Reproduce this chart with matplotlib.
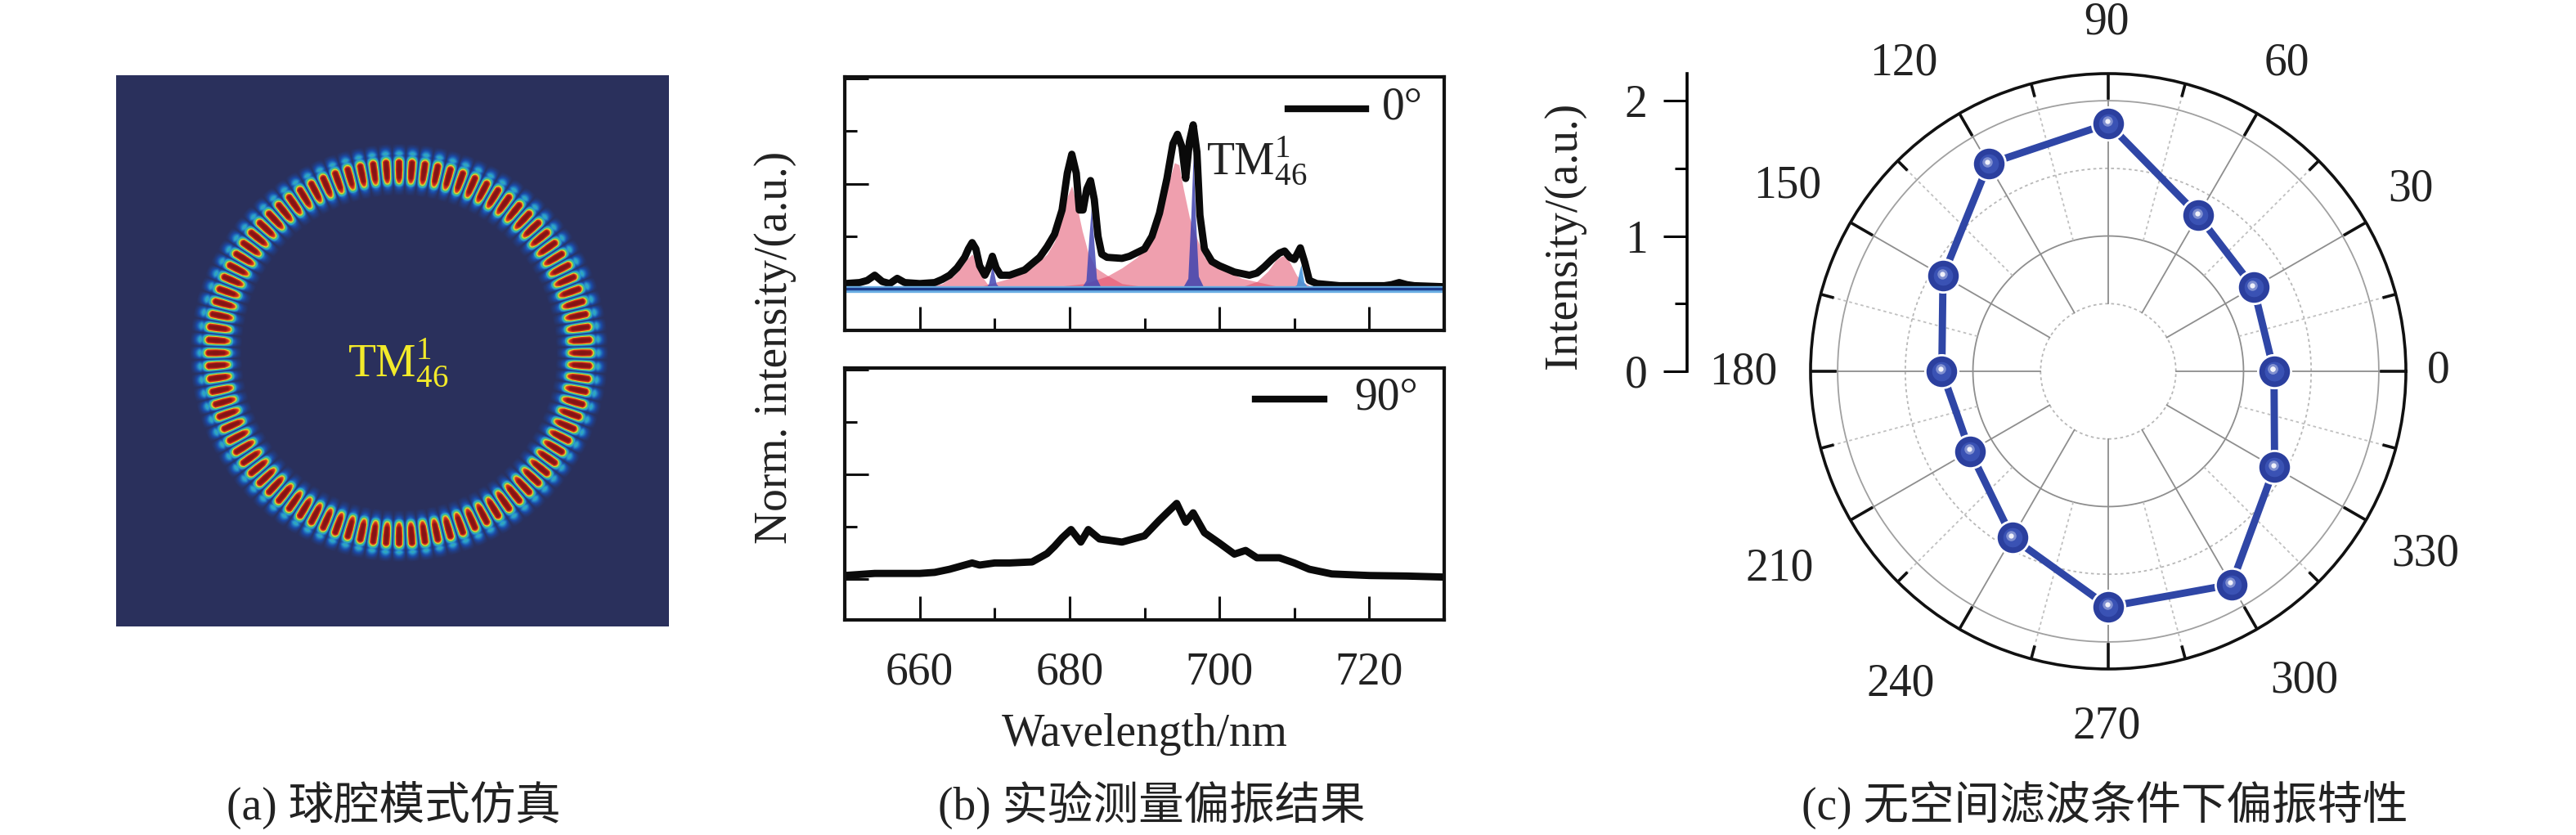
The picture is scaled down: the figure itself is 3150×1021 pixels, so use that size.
import numpy as np
import matplotlib
matplotlib.use('Agg')
import matplotlib.pyplot as plt
from matplotlib.colors import LinearSegmentedColormap
from matplotlib.ticker import MultipleLocator
from matplotlib.transforms import ScaledTranslation

plt.rcParams['font.family'] = ['Liberation Serif', 'Noto Sans CJK SC']
plt.rcParams['mathtext.fontset'] = 'custom'
plt.rcParams['mathtext.rm'] = 'Liberation Serif'
plt.rcParams['mathtext.default'] = 'rm'

W, H = 3150, 1021
FS = 40

# (a) mode picture: radial profile, 46 azimuthal pairs
mode_order = 46
ring_r = [192, 198, 203, 208, 214, 224, 234, 238, 241, 244, 248, 252, 256]
ring_amp = [0.0, 0.08, 0.22, 0.66, 0.93, 1.0, 0.93, 0.55, 0.28, 0.36, 0.2, 0.07, 0.0]
mode_stops = [0, 0.14, 0.3, 0.45, 0.58, 0.72, 0.9, 1]
mode_colors = ['#2a305c', '#1c4aa6', '#2a9ed0', '#4cc27c', '#e4d62e', '#d8301e', '#8a1616', '#841414']

# (b) 0 degree spectrum
wl_0 = [650, 652, 653, 654, 655, 656, 657, 658, 660, 662, 663, 664, 665, 666, 666.5, 667, 667.5, 668,
        668.7, 669.2, 669.7, 670.2, 670.8, 672, 674, 676, 677, 678, 679, 679.7, 680.3, 680.9, 681.3,
        681.8, 682.3, 682.8, 683.3, 683.8, 684.3, 685, 687, 688, 690, 691, 692, 693, 693.8, 694.4, 695,
        695.5, 696, 696.5, 697, 697.4, 698, 699, 700, 702, 704, 705, 706, 707, 708, 708.7, 709.4, 710,
        710.8, 711.4, 712, 713, 716, 722, 723, 724, 725, 726, 730]
int_0 = [0.05, 0.06, 0.08, 0.13, 0.07, 0.05, 0.1, 0.06, 0.05, 0.06, 0.09, 0.13, 0.2, 0.3, 0.38, 0.44, 0.38, 0.22,
         0.13, 0.2, 0.31, 0.2, 0.13, 0.13, 0.18, 0.3, 0.4, 0.52, 0.75, 1.1, 1.28, 1.1, 0.75,
         0.75, 0.95, 1.03, 0.85, 0.5, 0.33, 0.3, 0.29, 0.31, 0.38, 0.5, 0.72, 1.05, 1.38, 1.47, 1.35,
         1.05, 1.4, 1.56, 1.3, 0.7, 0.38, 0.26, 0.22, 0.16, 0.13, 0.15, 0.21, 0.28, 0.34, 0.36, 0.3, 0.28,
         0.39, 0.25, 0.08, 0.05, 0.03, 0.03, 0.04, 0.06, 0.04, 0.03, 0.02]

# (b) 90 degree spectrum
wl_90 = [650, 652, 654, 656, 660, 662, 664, 666, 667, 668, 670, 672, 675, 677, 678, 679, 680.2,
         681.5, 682.5, 684, 687, 690, 692, 693, 694.3, 695.5, 696.5, 698, 700, 702, 703.5,
         705, 708, 710, 712, 715, 720, 725, 730]
int_90 = [0.03, 0.04, 0.05, 0.05, 0.05, 0.06, 0.09, 0.13, 0.15, 0.13, 0.15, 0.15, 0.16, 0.24, 0.31, 0.39, 0.47,
          0.35, 0.47, 0.38, 0.35, 0.41, 0.56, 0.63, 0.72, 0.54, 0.63, 0.44, 0.34, 0.235, 0.27,
          0.2, 0.2, 0.15, 0.09, 0.045, 0.03, 0.025, 0.015]

# (b) fitted peaks under the 0 degree spectrum
pink_wl = [[661, 663, 664.5, 665.5, 666.3, 667, 667.6, 668.3, 669, 670],
           [668, 672, 675, 677, 678, 679, 679.7, 680.3, 681, 681.7, 682.5, 683.5, 685, 687, 690],
           [678, 682, 685, 687, 689, 690.5, 691.5, 692.5, 693.3, 694, 694.6, 695.2, 696, 697, 698, 700, 703, 708],
           [703, 705, 706.5, 707.5, 708.3, 708.8, 709.5, 710.3, 711, 712, 714]]
pink_int = [[0.02, 0.05, 0.12, 0.2, 0.28, 0.33, 0.26, 0.12, 0.05, 0.02],
            [0.02, 0.1, 0.2, 0.33, 0.45, 0.68, 0.88, 0.98, 0.78, 0.55, 0.34, 0.2, 0.13, 0.05, 0.02],
            [0.02, 0.05, 0.12, 0.2, 0.3, 0.42, 0.58, 0.8, 1.03, 1.2, 1.18, 0.95, 0.68, 0.48, 0.3, 0.2, 0.1, 0.02],
            [0.02, 0.07, 0.17, 0.27, 0.31, 0.32, 0.24, 0.13, 0.07, 0.03, 0.01]]
blue_wl = [[668.7, 669.2, 669.7, 670.2, 670.8],
           [681.5, 682.2, 682.6, 682.9, 683.2, 683.6, 684.3],
           [695, 695.8, 696.2, 696.5, 696.8, 697.2, 698],
           [709.5, 710.3, 710.7, 710.9, 711.3, 712]]
blue_int = [[0, 0.05, 0.23, 0.05, 0],
            [0, 0.08, 0.5, 0.77, 0.5, 0.1, 0],
            [0, 0.1, 0.7, 1.26, 0.7, 0.12, 0],
            [0, 0.04, 0.18, 0.23, 0.06, 0]]
blue_cols = ['#4348b4', '#4348b4', '#3d42ae', '#3a8ed8']

# (c) polar data
angles_deg = [0, 30, 60, 90, 120, 150, 180, 210, 240, 270, 300, 330]
intensity = [1.225, 1.24, 1.33, 1.83, 1.77, 1.41, 1.23, 1.18, 1.42, 1.74, 1.82, 1.42]


def px_axes(left, top, right, bottom, **kw):
    return fig.add_axes([left / W, 1 - bottom / H, (right - left) / W, (bottom - top) / H], **kw)


def px_text(x, y, s, **kw):
    kw.setdefault('ha', 'center')
    kw.setdefault('va', 'center')
    kw.setdefault('fontsize', FS)
    return fig.text(x / W, 1 - y / H, s, **kw)


fig = plt.figure(figsize=(W / 100, H / 100), dpi=100, facecolor='white')

# panel a
ax_a = px_axes(142, 92, 818, 766)
cx, cy = 345.5, 339
yy, xx = np.mgrid[0:674, 0:676]
rr = np.hypot(xx - cx, yy - cy)
th = np.arctan2(cy - yy, xx - cx)
field = np.interp(rr, ring_r, ring_amp) * (0.08 + 0.92 * (np.cos(mode_order * th) ** 2) ** 0.55)
cmap_a = LinearSegmentedColormap.from_list('mode', list(zip(mode_stops, mode_colors)))
ax_a.imshow(field, cmap=cmap_a, vmin=0, vmax=1, origin='upper', aspect='auto', interpolation='bilinear')
ax_a.axis('off')
px_text(425, 460, r'TM$^{1}_{46}$', color='#f2ea2a', ha='left', va='baseline', fontsize=FS)

# panel b
ax_top = px_axes(1033, 94, 1766, 404)
ax_bot = px_axes(1033, 450, 1766, 758)
ax_top.plot(wl_0, int_0, color='#0a0a0a', lw=6.4, solid_joinstyle='round')
for xs, ys in zip(pink_wl, pink_int):
    ax_top.fill_between(xs, 0, ys, color='#e1415f', alpha=0.5, lw=0)
for xs, ys, c in zip(blue_wl, blue_int, blue_cols):
    ax_top.fill_between(xs, 0, ys, color=c, alpha=0.85, lw=0)
ax_top.plot([660, 715], [0.02, 0.02], color='#d8304e', lw=2)
ax_top.plot([650, 730], [-0.005, -0.005], color='#6aaee4', lw=6)
ax_top.plot([650, 730], [0.005, 0.005], color='#1c3c8c', lw=2.4)
ax_top.set_ylim(-0.395, 2.016)
ax_bot.plot(wl_90, int_90, color='#0a0a0a', lw=6.4, solid_joinstyle='round')
ax_bot.set_ylim(-0.395, 2.016)

for ax in (ax_top, ax_bot):
    ax.set_xlim(650, 730)
    ax.xaxis.set_major_locator(MultipleLocator(20))
    ax.xaxis.set_minor_locator(MultipleLocator(10))
    ax.yaxis.set_major_locator(MultipleLocator(1))
    ax.yaxis.set_minor_locator(MultipleLocator(0.5))
    ax.tick_params(which='major', direction='in', length=21, width=2.2, color='#111111')
    ax.tick_params(which='minor', direction='in', length=11, width=2.2, color='#111111')
    ax.tick_params(labelleft=False, labelbottom=False)
    for sp in ax.spines.values():
        sp.set_linewidth(3)
        sp.set_color('#111111')
ax_bot.tick_params(labelbottom=True, labelsize=FS, pad=28, labelcolor='#222222')

ax_top.plot([0.74, 0.869], [0.875, 0.875], transform=ax_top.transAxes, color='#0a0a0a', lw=6)
px_text(1690, 132, '0°', ha='left', color='#222222')
ax_bot.plot([0.685, 0.80], [0.875, 0.875], transform=ax_bot.transAxes, color='#0a0a0a', lw=6)
px_text(1656, 486, '90°', ha='left', color='#222222')
px_text(1475, 213, r'TM$^{1}_{46}$', color='#222222', ha='left', va='baseline')
px_text(948, 425, 'Norm. intensity/(a.u.)', rotation=90, color='#222222')
px_text(1400, 898, 'Wavelength/nm', color='#222222')

# panel c
R_MAX = 2.2
cxp, cyp, rp = 2578, 454, 364
ax_c = px_axes(cxp - rp, cyp - rp, cxp + rp, cyp + rp, projection='polar')
ax_c.set_rlim(0, R_MAX)
ax_c.set_xticks([])
ax_c.set_yticks([])
ax_c.grid(False)
ax_c.spines['polar'].set_linewidth(2.6)
ax_c.spines['polar'].set_color('#111111')

circle = np.linspace(0, 2 * np.pi, 361)
for r, ls, c in [(0.5, (0, (2, 2)), '#b8b8b8'), (1, '-', '#8e8e8e'), (1.5, (0, (2, 2)), '#b8b8b8'), (2, '-', '#a0a0a0')]:
    ax_c.plot(circle, np.full_like(circle, r), ls=ls, color=c, lw=1.3, zorder=1)
for deg in range(0, 360, 15):
    t = np.deg2rad(deg)
    major = deg % 30 == 0
    ax_c.plot([t, t], [0.5 if major else 1.0, R_MAX], color='#8e8e8e' if major else '#c0c0c0',
              ls='-' if major else (0, (2, 2)), lw=1.3, zorder=1)
    ax_c.plot([t, t], [R_MAX - (0.18 if major else 0.09), R_MAX], color='#111111', lw=2.6, zorder=2)

theta = np.deg2rad(angles_deg + angles_deg[:1])
vals = intensity + intensity[:1]
ax_c.plot(theta, vals, color='#2f46a6', lw=6.4, zorder=3)
ax_c.plot(theta, vals, ls='none', marker='o', ms=29, mfc='#2b3f9e', mec='white', mew=2, zorder=4)
ax_c.plot(theta, vals, ls='none', marker='o', ms=17, mfc='#3a52b4', mec='none', zorder=5)
shift = ax_c.transData + ScaledTranslation(-1 / 72, 2 / 72, fig.dpi_scale_trans)
ax_c.plot(theta, vals, ls='none', marker='o', ms=9, mfc='#7f8fd0', mec='none', zorder=6, transform=shift)
ax_c.plot(theta, vals, ls='none', marker='o', ms=4.5, mfc='#f0f1fa', mec='none', zorder=7, transform=shift)

label_x = [2982, 2948, 2796, 2576, 2328, 2186, 2132, 2176, 2324, 2576, 2818, 2966]
label_y = [454, 232, 78, 28, 78, 228, 456, 696, 836, 888, 832, 678]
for deg, lx, ly in zip(angles_deg, label_x, label_y):
    px_text(lx, ly, str(deg), color='#222222')

ax_r = px_axes(2063, cyp - rp, 2064, cyp)
ax_r.set_ylim(0, R_MAX)
ax_r.set_xticks([])
ax_r.patch.set_visible(False)
for side in ('top', 'right', 'bottom'):
    ax_r.spines[side].set_visible(False)
ax_r.spines['left'].set_linewidth(2.6)
ax_r.yaxis.set_major_locator(MultipleLocator(1))
ax_r.yaxis.set_minor_locator(MultipleLocator(0.5))
ax_r.tick_params(which='major', direction='out', length=21, width=2.2, labelsize=FS, pad=14, labelcolor='#222222')
ax_r.tick_params(which='minor', direction='out', length=11, width=2.2)
px_text(1913, 288, 'Intensity/(a.u.)', rotation=90, color='#222222')

# captions
px_text(481, 984, '(a) 球腔模式仿真', color='#222222')
px_text(1408, 984, '(b) 实验测量偏振结果', color='#222222')
px_text(2574, 984, '(c) 无空间滤波条件下偏振特性', color='#222222')

fig.savefig('out.png', dpi=100)
